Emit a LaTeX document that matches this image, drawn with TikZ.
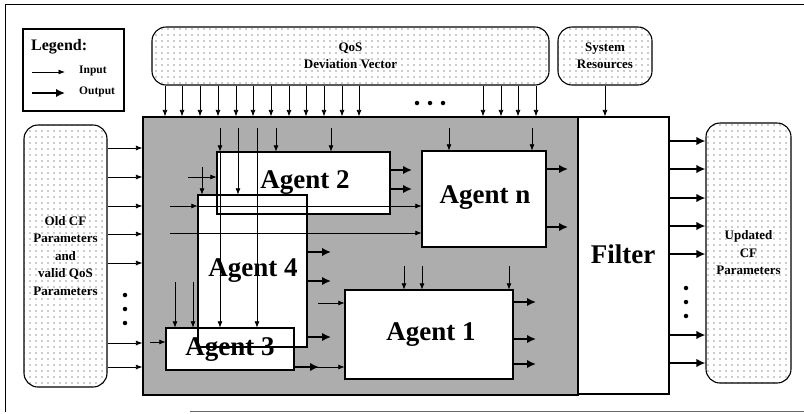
\documentclass[tikz,border=0pt]{standalone}
\usepackage{fontspec}
\setmainfont{Liberation Serif}
\usetikzlibrary{arrows.meta,patterns.meta}
\begin{document}
\begin{tikzpicture}[x=1pt,y=-1pt,
  inarr/.style={line width=0.8pt,-{Latex[length=6.5pt,width=5pt]}},
  outarr/.style={line width=2.6pt,-{Latex[length=9pt,width=8.5pt]}},
  dotbox/.style={draw,line width=1.1pt,rounded corners=14pt,pattern={Dots[radius=0.55pt,distance=6pt]},pattern color=black!85,inner sep=0,align=center,font=\bfseries\fontsize{13}{17.5}\selectfont},
  agentbox/.style={draw,line width=1.2pt,inner sep=0},
  agentfill/.style={fill=white,draw=none,inner sep=0},
  biglabel/.style={font=\bfseries\fontsize{27}{30}\selectfont,inner sep=0},
  smalllabel/.style={font=\bfseries\fontsize{11.5}{13}\selectfont,inner sep=0,anchor=west},
  dotmark/.style={circle,fill=black,inner sep=0,minimum size=4.5pt}
]
\useasboundingbox (0,0) rectangle (804,413);
\fill[white] (0,0) rectangle (804,413);
% frame
\draw[line width=0.8pt] (804,4) -- (5,4) -- (5,412);
\draw[line width=0.8pt,black!60] (190,411) -- (804,411);

% legend
\node[draw,line width=1.1pt,minimum width=101pt,minimum height=82pt,inner sep=0] (legend) at (73.5,70) {};
\node[anchor=west,font=\bfseries\fontsize{16}{18}\selectfont,inner sep=0] (legt) at (31,47) {Legend:};
\coordinate (li1) at (32,72); \coordinate (li2) at (65,72);
\draw[inarr] (li1) -- (li2);
\node[smalllabel] (lin) at (79,71) {Input};
\coordinate (lo1) at (32,93); \coordinate (lo2) at (65,93);
\draw[outarr] (lo1) -- (lo2);
\node[smalllabel] (lout) at (79,92) {Output};

% dotted boxes
\node[dotbox,minimum width=397pt,minimum height=58pt] (qos) at (350.5,56) {QoS\\Deviation Vector};
\node[dotbox,minimum width=94pt,minimum height=58pt] (sys) at (605,56) {System\\Resources};
\node[dotbox,minimum width=83pt,minimum height=262pt] (oldcf) at (65.5,256) {Old CF\\Parameters\\and\\valid QoS\\Parameters};
\node[dotbox,minimum width=85pt,minimum height=260pt] (updcf) at (748.5,253) {Updated\\CF\\Parameters};

% big shaded box and filter
\node[draw,line width=1.2pt,fill=black!32,minimum width=435pt,minimum height=278pt,inner sep=0] (bigbox) at (360.5,256) {};
\node[draw,line width=1.2pt,fill=white,minimum width=91pt,minimum height=277pt,inner sep=0] (filter) at (623.5,255.5) {};
\node[biglabel] (filtert) at (623,254) {Filter};

% agent fills
\node[agentfill,minimum width=173pt,minimum height=62pt] (a2f) at (303.5,183) {};
\node[agentfill,minimum width=109pt,minimum height=152pt] (a4f) at (252.5,271) {};
\node[agentfill,minimum width=128pt,minimum height=42pt] (a3f) at (230,349) {};
\node[agentfill,minimum width=124pt,minimum height=96pt] (anf) at (484,199) {};
\node[agentfill,minimum width=168pt,minimum height=89pt] (a1f) at (429,334.5) {};

% agent labels
\node[biglabel] (a2t) at (305,183) {Agent 2};
\node[biglabel] (a4t) at (253,271) {Agent 4};
\node[biglabel] (a3t) at (230,350) {Agent 3};
\node[biglabel] (ant) at (485,198) {Agent n};
\node[biglabel] (a1t) at (431,335) {Agent 1};

% QoS inputs
\foreach \x in {165,182,200,218,236,253,271,289,306,324,342,359,483,501,518,536}
  \draw[inarr] (\x,0 |- qos.south) -- (\x,0 |- bigbox.north);
\node[dotmark] (qd1) at (417,103) {};
\node[dotmark] (qd2) at (430,103) {};
\node[dotmark] (qd3) at (443,103) {};
\draw[inarr] (sys.south) -- (sys.south |- filter.north);

% old CF inputs
\foreach \y in {148,177,206,234,263,343,367}
  \draw[inarr] (oldcf.east |- 0,\y) -- (bigbox.west |- 0,\y);
\node[dotmark] (od1) at (125,295) {};
\node[dotmark] (od2) at (125,309) {};
\node[dotmark] (od3) at (125,323) {};

% filter outputs
\foreach \y in {141,169,198,226,254,335,363}
  \draw[outarr] (filter.east |- 0,\y) -- (updcf.west |- 0,\y);
\node[dotmark] (ud1) at (686,288) {};
\node[dotmark] (ud2) at (686,302) {};
\node[dotmark] (ud3) at (686,316) {};

% internal inputs from top
\draw[inarr] (220,128) -- (220,0 |- a2f.north);
\draw[inarr] (220,0 |- a2f.north) -- (220,0 |- a3f.north);
\draw[inarr] (238,128) -- (238,0 |- a4f.north);
\draw[inarr] (257,128) -- (257,0 |- a3f.north);
\draw[inarr] (276,128) -- (276,0 |- a2f.north);
\draw[inarr] (331,128) -- (331,0 |- a2f.north);
\draw[inarr] (449,128) -- (449,0 |- anf.north);
\draw[inarr] (532,128) -- (532,0 |- anf.north);
\foreach \x in {404,422,509}
  \draw[inarr] (\x,266) -- (\x,0 |- a1f.north);
\foreach \x in {175,193}
  \draw[inarr] (\x,282) -- (\x,0 |- a3f.north);
\draw[inarr] (188,177) -- (a2f.west |- 0,177);
\draw[inarr] (202,167) -- (202,0 |- a4f.north);
\draw[inarr] (170,206) -- (a4f.west |- 0,206);
\draw[inarr] (a4f.west |- 0,206) -- (anf.west |- 0,206);
\draw[inarr] (170,233) -- (anf.west |- 0,233);
\draw[inarr] (150,342) -- (a3f.west |- 0,342);
\draw[inarr] (318,303) -- (a1f.west |- 0,303);
\draw[inarr] (a3f.east |- 0,367) -- (a1f.west |- 0,367);
\draw[outarr] (a3f.east |- 0,367) -- (319,367);

% agent outputs
\foreach \y in {170,189} \draw[outarr] (a2f.east |- 0,\y) -- (412,\y);
\foreach \y in {252,281,337} \draw[outarr] (a4f.east |- 0,\y) -- (331,\y);
\foreach \y in {169,227} \draw[outarr] (anf.east |- 0,\y) -- (568,\y);
\foreach \y in {302,339,364} \draw[outarr] (a1f.east |- 0,\y) -- (536,\y);

% agent outlines
\node[agentbox,minimum width=173pt,minimum height=62pt] (a2) at (303.5,183) {};
\node[agentbox,minimum width=109pt,minimum height=152pt] (a4) at (252.5,271) {};
\node[agentbox,minimum width=128pt,minimum height=42pt] (a3) at (230,349) {};
\node[agentbox,minimum width=124pt,minimum height=96pt] (an) at (484,199) {};
\node[agentbox,minimum width=168pt,minimum height=89pt] (a1) at (429,334.5) {};
\end{tikzpicture}
\end{document}
